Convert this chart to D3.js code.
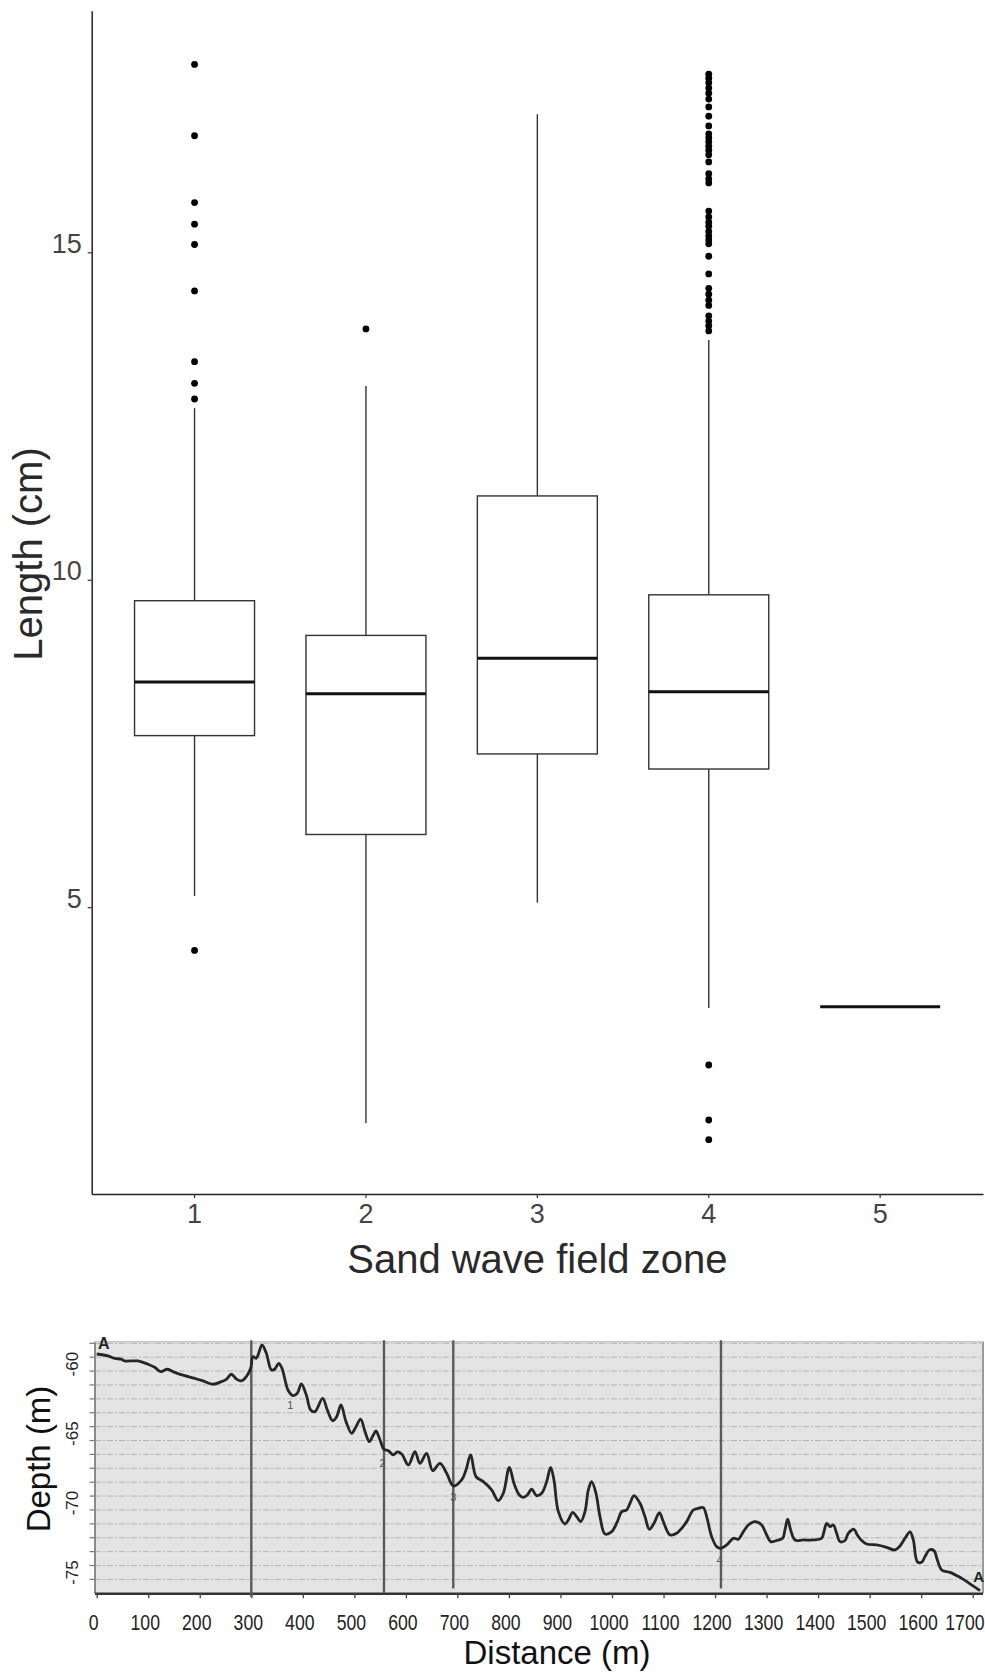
<!DOCTYPE html>
<html>
<head>
<meta charset="utf-8">
<script src="https://cdn.jsdelivr.net/npm/d3@7"></script>
<style>
  html, body { margin: 0; padding: 0; background: #fff; }
  svg { display: block; }
  text { font-family: "Liberation Sans", Arial, sans-serif; }
</style>
</head>
<body>
<svg id="chart" width="985" height="1673"></svg>
<script>
// ---------------- Box plot data (Length by sand wave field zone) ----------------
const zones = ["1", "2", "3", "4", "5"];
const q1Values = [7.62, 6.11, 7.34, 7.11, 3.48];
const medianValues = [8.44, 8.26, 8.80, 8.29, 3.48];
const q3Values = [9.68, 9.15, 11.28, 9.77, 3.48];
const whiskerLow = [5.17, 1.70, 5.07, 3.46, 3.48];
const whiskerHigh = [12.62, 12.96, 17.11, 13.66, 3.48];
const outliersZone1 = [17.87, 16.78, 15.76, 15.43, 15.12, 14.41, 13.33, 13.00, 12.76, 4.34];
const outliersZone2 = [13.83];
const outliersZone3 = [];
const outliersZone4 = [17.72, 17.66, 17.59, 17.51, 17.43, 17.34, 17.22, 17.08, 16.93, 16.81, 16.75,
  16.69, 16.62, 16.56, 16.49, 16.38, 16.20, 16.12, 16.06, 15.63, 15.54, 15.46, 15.40, 15.32,
  15.25, 15.19, 15.13, 14.94, 14.67, 14.45, 14.36, 14.27, 14.19, 14.03, 13.95, 13.88, 13.80,
  2.59, 1.75, 1.45];
const outliersZone5 = [];
const lengthTicks = [5, 10, 15];

// ---------------- Depth profile data ----------------
const profileDistance = [0, 21.9, 34.9, 47.8, 54.3, 80.1, 99.6, 112.5, 124.1, 137.1, 151.3, 170.7, 190.1,
  206.3, 225.7, 241.9, 251.6, 261.3, 271.0, 280.7, 290.4, 298.8, 303.3, 309.8, 314.3, 320.8, 329.2,
  338.9, 345.4, 353.1, 359.6, 371.2, 380.9, 389.3, 397.1, 406.8, 415.2, 423.6, 438.5, 447.6, 457.9,
  465.7, 474.1, 483.8, 494.8, 503.2, 512.3, 520.7, 529.1, 536.8, 542.0, 549.8, 557.5, 565.9, 575.6,
  583.4, 591.8, 604.8, 617.7, 627.4, 640.3, 652.0, 666.2, 679.2, 692.1, 708.3, 716.7, 725.7, 736.1,
  750.3, 766.5, 779.4, 789.1, 800.8, 809.8, 820.2, 828.0, 835.7, 844.1, 853.8, 863.5, 873.2, 881.0,
  887.4, 895.9, 908.8, 915.3, 923.7, 931.4, 939.2, 947.6, 954.1, 960.5, 968.9, 976.7, 986.4, 999.4,
  1010.4, 1018.8, 1028.5, 1034.9, 1042.7, 1054.3, 1064.0, 1072.5, 1081.5, 1091.9, 1099.6, 1112.6,
  1125.5, 1135.2, 1144.9, 1157.8, 1167.5, 1177.2, 1183.7, 1193.4, 1203.1, 1210.9, 1222.6, 1235.5,
  1245.2, 1254.9, 1264.6, 1277.5, 1290.5, 1300.2, 1307.9, 1319.6, 1331.2, 1335.7, 1340.9, 1346.7,
  1355.1, 1371.3, 1390.7, 1406.9, 1411.4, 1416.6, 1423.1, 1429.5, 1436.0, 1442.5, 1452.2, 1458.6,
  1469.6, 1476.1, 1484.5, 1494.2, 1513.6, 1533.0, 1549.2, 1558.9, 1568.6, 1578.3, 1584.8, 1592.5,
  1600.9, 1607.4, 1615.8, 1624.9, 1631.4, 1639.8, 1656.0, 1675.3, 1691.5, 1714.2];
const profileDepth = [-59.77, -59.91, -60.08, -60.15, -60.27, -60.27, -60.51, -60.73, -61.04, -60.87,
  -61.09, -61.33, -61.52, -61.71, -61.95, -61.76, -61.59, -61.23, -61.57, -61.71, -61.40, -60.80,
  -59.96, -60.08, -59.72, -59.12, -59.72, -60.92, -60.87, -60.44, -60.80, -62.36, -62.77, -62.60,
  -61.93, -62.72, -63.80, -63.92, -62.96, -63.80, -64.57, -64.28, -63.44, -64.64, -65.48, -65.00,
  -64.47, -65.36, -66.08, -65.60, -65.31, -65.96, -66.63, -66.73, -67.04, -66.82, -66.97, -67.76,
  -66.80, -67.64, -66.92, -68.17, -67.64, -68.36, -69.27, -68.84, -68.12, -67.04, -68.60, -68.96,
  -69.56, -70.33, -69.80, -67.93, -69.08, -69.92, -70.09, -69.92, -69.51, -69.97, -69.80, -68.96,
  -67.93, -68.84, -71.12, -72.01, -71.72, -71.17, -71.48, -71.84, -71.12, -69.56, -68.96, -69.80,
  -71.48, -72.73, -72.56, -71.84, -71.12, -71.00, -70.52, -69.97, -70.52, -71.48, -72.39, -71.96,
  -71.19, -71.84, -72.80, -72.68, -72.32, -71.84, -71.00, -70.88, -70.83, -71.48, -72.92, -73.64,
  -73.76, -73.52, -73.04, -73.11, -72.56, -72.08, -71.84, -72.08, -72.80, -73.28, -73.20, -73.04,
  -72.44, -71.67, -72.44, -73.16, -73.16, -73.16, -73.04, -72.56, -71.96, -72.20, -72.08, -72.68,
  -73.28, -73.20, -72.68, -72.39, -72.80, -73.20, -73.45, -73.52, -73.69, -73.88, -73.59, -73.04,
  -72.58, -73.16, -74.72, -74.77, -74.36, -73.88, -73.93, -74.60, -75.32, -75.49, -75.85, -76.23,
  -76.81];
const depthTicks = [-60, -65, -70, -75];
const depthGrid = [-59, -60, -61, -62, -63, -64, -65, -66, -67, -68, -69, -70, -71, -72, -73, -74, -75, -76];
const distanceTicks = [0, 100, 200, 300, 400, 500, 600, 700, 800, 900, 1000, 1100, 1200, 1300, 1400, 1500, 1600, 1700];
const zoneBoundaries = [300, 557.5, 692, 1211.5];
const zoneBoundaryEnd = [-77.25, -77, -76.65, -76.65];
const zoneLabelText = ["1", "2", "3", "4"];
const zoneLabelDistance = [375.7, 555, 692.1, 1209];
const zoneLabelDepth = [-63.44, -67.64, -70.04, -74.6];

// ---------------- Drawing ----------------
const svg = d3.select("#chart");
svg.append("rect").attr("width", 985).attr("height", 1673).attr("fill", "#fff");

// ===== Box plot =====
const x = d3.scaleBand().domain(zones).range([91.7, 983]).paddingInner(0).paddingOuter(0.1);
const y = d3.scaleLinear().domain([0.62, 18.69]).range([1194, 10.7]);
const boxW = x.step() * 0.7;
const cx = d => x(d) + x.bandwidth() / 2;

const boxPanel = svg.append("g");
const boxes = zones.map((z, i) => ({
  zone: z, q1: q1Values[i], med: medianValues[i], q3: q3Values[i],
  lo: whiskerLow[i], hi: whiskerHigh[i],
  out: [outliersZone1, outliersZone2, outliersZone3, outliersZone4, outliersZone5][i]
}));

const bg = boxPanel.selectAll("g.box").data(boxes).join("g").attr("class", "box");
bg.append("line").attr("x1", d => cx(d.zone)).attr("x2", d => cx(d.zone))
  .attr("y1", d => y(d.q3)).attr("y2", d => y(d.hi))
  .attr("stroke", "#333").attr("stroke-width", 1.4);
bg.append("line").attr("x1", d => cx(d.zone)).attr("x2", d => cx(d.zone))
  .attr("y1", d => y(d.q1)).attr("y2", d => y(d.lo))
  .attr("stroke", "#333").attr("stroke-width", 1.4);
bg.append("rect").attr("x", d => cx(d.zone) - boxW / 2).attr("width", boxW)
  .attr("y", d => y(d.q3)).attr("height", d => y(d.q1) - y(d.q3))
  .attr("fill", "#fff").attr("stroke", "#333").attr("stroke-width", 1.4);
bg.append("line").attr("x1", d => cx(d.zone) - boxW / 2).attr("x2", d => cx(d.zone) + boxW / 2)
  .attr("y1", d => y(d.med)).attr("y2", d => y(d.med))
  .attr("stroke", "#111").attr("stroke-width", 3);
bg.selectAll("circle").data(d => d.out.map(v => ({ zone: d.zone, v }))).join("circle")
  .attr("cx", d => cx(d.zone)).attr("cy", d => y(d.v)).attr("r", 3.4).attr("fill", "#000");

const yAxis = boxPanel.append("g").attr("transform", "translate(91.7,0)")
  .call(d3.axisLeft(y).tickValues(lengthTicks).tickSize(4).tickSizeOuter(0));
yAxis.select(".domain").attr("stroke", "#222").attr("stroke-width", 1.5);
yAxis.selectAll(".tick line").attr("stroke", "#333").attr("stroke-width", 1.2);
yAxis.selectAll(".tick text").attr("x", -10).attr("dy", 0)
  .attr("font-size", 27).attr("fill", "#444").attr("font-family", "Liberation Sans, Arial, sans-serif");

const xAxis = boxPanel.append("g").attr("transform", "translate(0,1194)")
  .call(d3.axisBottom(x).tickSize(4).tickSizeOuter(0));
xAxis.select(".domain").attr("stroke", "#222").attr("stroke-width", 1.5);
xAxis.selectAll(".tick line").attr("stroke", "#333").attr("stroke-width", 1.2);
xAxis.selectAll(".tick text").attr("y", 29).attr("dy", 0)
  .attr("font-size", 27).attr("fill", "#444").attr("font-family", "Liberation Sans, Arial, sans-serif");

boxPanel.append("text").attr("x", (91.7 + 983) / 2).attr("y", 1273).attr("text-anchor", "middle")
  .attr("font-size", 40).attr("fill", "#2a2a2a").text("Sand wave field zone");
boxPanel.append("text").attr("transform", "translate(42,554) rotate(-90)").attr("text-anchor", "middle")
  .attr("font-size", 40).attr("fill", "#2a2a2a").text("Length (cm)");

// ===== Depth profile =====
const px = d3.scaleLinear().domain([0, 1720]).range([96.7, 983]);
const py = d3.scaleLinear().domain([-77, -59]).range([1593.3, 1343.3]);
const prof = svg.append("g");
const leftEdge = 95;

prof.append("rect").attr("x", leftEdge).attr("y", py(-59) - 1.5)
  .attr("width", px(1720) - leftEdge).attr("height", py(-77) - py(-59) + 1.5)
  .attr("fill", "#e4e4e4");

prof.selectAll("line.grid").data(depthGrid).join("line").attr("class", "grid")
  .attr("x1", leftEdge).attr("x2", px(1720)).attr("y1", d => py(d)).attr("y2", d => py(d))
  .attr("stroke", "#b4b4b4").attr("stroke-width", 1).attr("stroke-dasharray", "6,2,2,2");
prof.selectAll("line.ytick").data(depthGrid).join("line").attr("class", "ytick")
  .attr("x1", 89.5).attr("x2", leftEdge).attr("y1", d => py(d)).attr("y2", d => py(d))
  .attr("stroke", "#777").attr("stroke-width", 1.2);
prof.append("line").attr("x1", leftEdge).attr("x2", leftEdge).attr("y1", py(-59) - 1.5).attr("y2", py(-77))
  .attr("stroke", "#8a8a8a").attr("stroke-width", 2);
prof.append("line").attr("x1", px(1720)).attr("x2", px(1720)).attr("y1", py(-59) - 1.5).attr("y2", py(-77))
  .attr("stroke", "#9a9a9a").attr("stroke-width", 2);
prof.append("line").attr("x1", leftEdge).attr("x2", px(1720)).attr("y1", py(-59) - 1.5).attr("y2", py(-59) - 1.5)
  .attr("stroke", "#c8c8c8").attr("stroke-width", 1.5);

const pxAxis = prof.append("g").attr("transform", `translate(0,${py(-77)})`)
  .call(d3.axisBottom(px).tickValues(distanceTicks).tickSize(5).tickSizeOuter(0).tickFormat(d => String(d)));
pxAxis.select(".domain").attr("stroke", "#333").attr("stroke-width", 2.5)
  .attr("d", `M${leftEdge},0.5H${px(1720)}`);
pxAxis.selectAll(".tick line").attr("stroke", "#444").attr("stroke-width", 1.3);
pxAxis.selectAll(".tick text")
  .attr("y", null).attr("dy", null)
  .attr("transform", "translate(-3.5,36.7) scale(0.82,1)")
  .attr("font-size", 21.5).attr("fill", "#222").attr("font-family", "Liberation Sans, Arial, sans-serif");
// keep the last label inside the picture
pxAxis.selectAll(".tick text").filter(d => d === 1700)
  .attr("text-anchor", "end").attr("transform", `translate(${984 - px(1700)},36.7) scale(0.82,1)`);

prof.selectAll("text.ylab").data(depthTicks).join("text").attr("class", "ylab")
  .attr("transform", d => `translate(78.3,${py(d) + 7}) rotate(-90)`)
  .attr("text-anchor", "middle").attr("font-size", 17).attr("fill", "#222")
  .text(d => String(d));

prof.selectAll("line.zone").data(zoneBoundaries).join("line").attr("class", "zone")
  .attr("x1", d => px(d)).attr("x2", d => px(d))
  .attr("y1", py(-59) - 3).attr("y2", (d, i) => py(zoneBoundaryEnd[i]))
  .attr("stroke", "#5a5a5a").attr("stroke-width", 2.4);

const line = d3.line().x(d => px(d[0])).y(d => py(d[1])).curve(d3.curveCatmullRom.alpha(0.5));
prof.append("path").datum(profileDistance.map((d, i) => [d, profileDepth[i]]))
  .attr("d", line).attr("fill", "none").attr("stroke", "#262626").attr("stroke-width", 2.8)
  .attr("stroke-linejoin", "round");

prof.selectAll("text.zl").data(zoneLabelText).join("text").attr("class", "zl")
  .attr("x", (d, i) => px(zoneLabelDistance[i])).attr("y", (d, i) => py(zoneLabelDepth[i]) + 4)
  .attr("text-anchor", "middle").attr("font-size", 11).attr("fill", "#555").text(d => d);

prof.append("text").attr("x", 98).attr("y", 1348.5).attr("font-size", 16).attr("font-weight", "bold")
  .attr("fill", "#222").text("A");
prof.append("text").attr("x", 984).attr("y", 1582).attr("text-anchor", "end").attr("font-size", 15).attr("font-weight", "bold")
  .attr("fill", "#222").text("A");

prof.append("text").attr("x", 557).attr("y", 1664).attr("text-anchor", "middle")
  .attr("font-size", 33).attr("fill", "#111").text("Distance (m)");
prof.append("text").attr("transform", "translate(50,1459) rotate(-90)").attr("text-anchor", "middle")
  .attr("font-size", 33).attr("fill", "#111").text("Depth (m)");
</script>
</body>
</html>
